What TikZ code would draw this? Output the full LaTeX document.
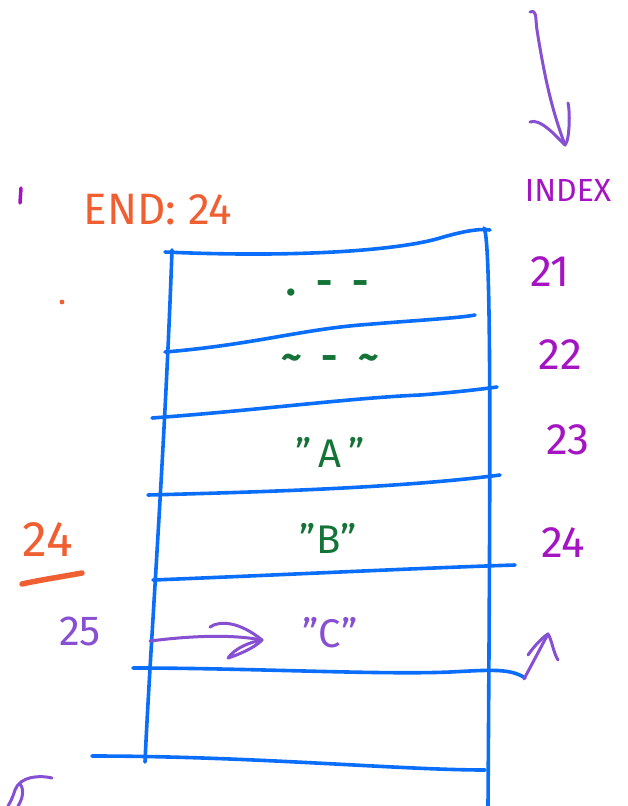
\documentclass[tikz,border=0pt]{standalone}
\usepackage{fontspec}
\setmainfont{Fira Sans}
\definecolor{gridblue}{RGB}{10,110,250}
\definecolor{ornge}{RGB}{240,95,50}
\definecolor{idxpurple}{RGB}{165,20,195}
\definecolor{lpurple}{RGB}{135,80,210}
\definecolor{dgreen}{RGB}{20,115,55}
\begin{document}
\begin{tikzpicture}[x=1pt,y=-1pt,
  cell/.style={gridblue,line width=3.6pt,line cap=round},
  idx/.style={idxpurple,font=\fontsize{44}{46}\selectfont},
  val/.style={dgreen,font=\fontsize{40}{42}\selectfont},
  note/.style={lpurple,line width=3pt,line cap=round,line join=round}]
\useasboundingbox (0,0) rectangle (628,806);
% columns
\draw[cell] (172,250) .. controls (165,450) and (150,650) .. (145,762);
\draw[cell] (484,228) .. controls (492,240) and (490,500) .. (488,806);
% rows
\draw[cell] (165,252) .. controls (300,258) and (400,250) .. (440,238) .. controls (460,232) and (480,228) .. (490,230);
\draw[cell] (165,352) .. controls (250,345) and (300,330) .. (360,325) .. controls (420,320) and (460,318) .. (475,315);
\draw[cell] (152,418) .. controls (260,410) and (350,398) .. (420,395) .. controls (460,392) and (490,388) .. (497,387);
\draw[cell] (148,495) .. controls (260,492) and (400,488) .. (500,475);
\draw[cell] (153,580) .. controls (280,575) and (420,568) .. (515,565);
\draw[cell] (133,668) .. controls (250,668) and (380,675) .. (450,672) .. controls (490,670) and (510,668) .. (525,678);
\draw[cell] (92,756) .. controls (250,756) and (400,770) .. (485,770);
% values
\node[val,font=\bfseries\fontsize{40}{42}\selectfont] (v1) at (328,288) {.\,\,\,-\,\,\,-};
\node[val,font=\bfseries\fontsize{40}{42}\selectfont] (v2) at (330,362) {\textasciitilde\,\,\,-\,\,\,\textasciitilde};
\node[val] (va) at (330,452) {''\,A\,''};
\node[val] (vb) at (328,538) {''B''};
\node[lpurple,font=\fontsize{40}{42}\selectfont] (vc) at (330,633) {''C''};
% index column
\node[idx,font=\fontsize{32}{34}\selectfont] (ihead) at (568,190) {INDEX};
\node[idx] (i21) at (550,272) {21};
\node[idx] (i22) at (560,355) {22};
\node[idx] (i23) at (568,440) {23};
\node[idx] (i24) at (563,543) {24};
% top arrow
\coordinate (atop) at (530,12);
\coordinate (abot) at (565,145);
\draw[note] (atop) .. controls (537,10) and (535,15) .. (537,30) .. controls (545,80) and (552,110) .. (abot);
\draw[note] (530,122) .. controls (540,118) and (555,135) .. (abot) .. controls (570,140) and (570,110) .. (568,103);
% small arrow bottom right
\coordinate (sa) at (524,679);
\coordinate (sb) at (548,634);
\draw[note] (sa) -- (sb);
\draw[note] (528,655) .. controls (535,645) and (543,637) .. (sb) .. controls (552,640) and (553,652) .. (558,660);
% left annotations
\node[ornge,font=\fontsize{44}{46}\selectfont] (endl) at (158,210) {END: 24};
\draw[idxpurple,line width=3.5pt,line cap=round] (21,188) -- (20,203);
\fill[ornge] (62,302) circle (2.4);
\node[ornge,font=\fontsize{50}{52}\selectfont] (o24) at (48,540) {24};
\draw[ornge,line width=5.5pt,line cap=round] (22,584) .. controls (40,580) and (60,577) .. (82,573);
\node[lpurple,font=\fontsize{42}{44}\selectfont] (n25) at (80,631) {25};
\coordinate (arrs) at (150,641);
\coordinate (arrt) at (262,640);
\draw[note] (arrs) .. controls (190,636) and (230,634) .. (arrt);
\draw[note] (210,627) .. controls (220,620) and (240,622) .. (arrt) .. controls (255,648) and (235,656) .. (228,658) .. controls (235,648) and (250,642) .. (arrt);
% bottom-left scribble
\draw[note] (52,778) .. controls (40,775) and (20,776) .. (15,790) .. controls (12,800) and (8,806) .. (8,806);
\draw[note] (20,784) .. controls (25,790) and (22,800) .. (18,806);
\end{tikzpicture}
\end{document}
